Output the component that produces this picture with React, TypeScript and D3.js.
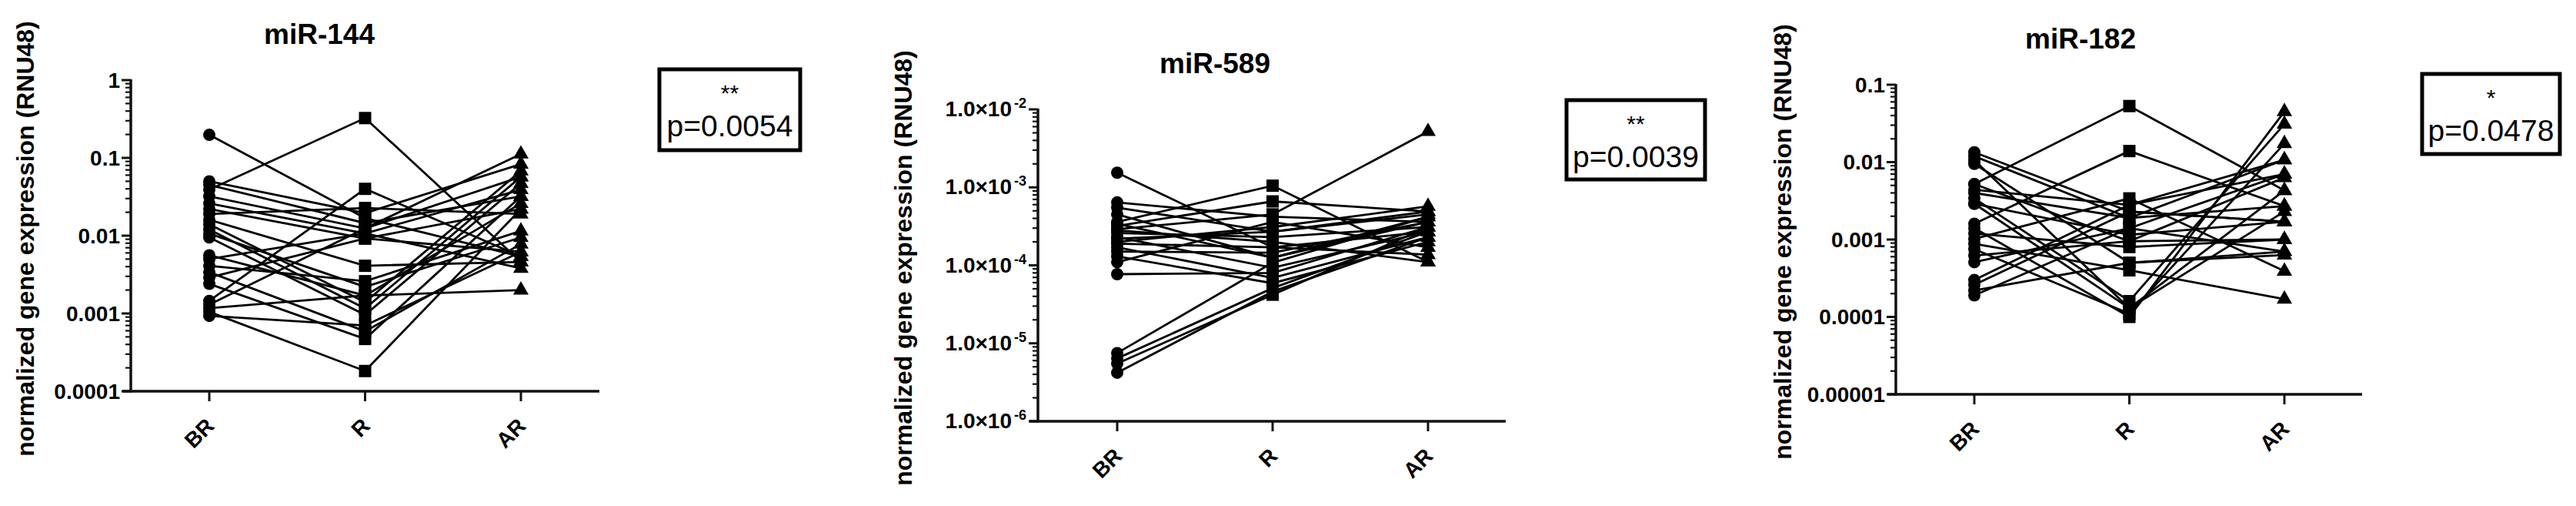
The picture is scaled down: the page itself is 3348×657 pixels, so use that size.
import React from "react";
import * as d3 from "d3";

// ---------- data ----------
const groups = ["BR", "R", "AR"];

// miR-144
const mir144_BR = [0.198, 0.039, 0.05, 0.045, 0.032, 0.026, 0.022, 0.019, 0.016, 0.014, 0.012, 0.0106, 0.0095, 0.0056, 0.005, 0.0041, 0.0034, 0.0029, 0.0024, 0.00145, 0.0013, 0.00117, 0.00105, 0.00093];
const mir144_R = [0.0168, 0.325, 0.0195, 0.0145, 0.0124, 0.0107, 0.0092, 0.0227, 0.0041, 0.0014, 0.00116, 0.0022, 0.00096, 0.0017, 0.0107, 0.0026, 0.00059, 0.0092, 0.00047, 0.04, 0.0124, 0.0017, 0.000182, 0.0007];
const mir144_AR = [0.0054, 0.0046, 0.083, 0.032, 0.112, 0.0038, 0.0062, 0.019, 0.0046, 0.068, 0.057, 0.0095, 0.047, 0.026, 0.039, 0.0115, 0.0078, 0.022, 0.032, 0.0054, 0.057, 0.002, 0.022, 0.0062];

// miR-589
const mir589_BR = [1.54e-3, 6.4e-4, 5.5e-4, 4.5e-4, 3.6e-4, 3.2e-4, 2.9e-4, 2.6e-4, 2.3e-4, 2.0e-4, 1.7e-4, 1.5e-4, 1.3e-4, 1.1e-4, 7.7e-5, 7.5e-6, 6.4e-6, 5.5e-6, 4.2e-6, 2.8e-4, 3.4e-4, 2.2e-4, 1.9e-4];
const mir589_R = [1.7e-4, 4.2e-4, 2.7e-4, 1.25e-4, 1.05e-3, 6.6e-4, 4.5e-4, 2.3e-4, 9.3e-5, 3.1e-4, 6.9e-5, 1.45e-4, 5.9e-5, 3.6e-4, 8e-5, 1.08e-4, 5.1e-5, 4.2e-5, 4.6e-5, 2.0e-4, 1.25e-4, 2.7e-4, 1.7e-4];
const mir589_AR = [1.37e-4, 3.6e-4, 4.9e-4, 4.2e-4, 1.1e-4, 4.9e-4, 5.2e-3, 3.1e-4, 2.7e-4, 5.7e-4, 2.3e-4, 3.6e-4, 2.0e-4, 1.7e-4, 3.1e-4, 4.2e-4, 2.7e-4, 3.1e-4, 2.3e-4, 1.1e-4, 3.6e-4, 4.5e-4, 2.7e-4];

// miR-182
const mir182_BR = [0.0134, 0.0119, 0.0106, 0.0095, 0.0052, 0.0044, 0.004, 0.0034, 0.0029, 0.0016, 0.0014, 0.0012, 0.00102, 0.00088, 0.00075, 0.00062, 0.00051, 0.0003, 0.00026, 0.00022, 0.00019, 0.0029, 0.0052];
const mir182_R = [0.0023, 0.0019, 0.00013, 0.0005, 0.053, 0.0028, 0.0019, 0.00016, 0.00115, 0.0139, 0.0001, 0.0008, 0.0034, 0.0004, 0.00011, 0.00095, 0.0014, 0.0028, 0.0023, 0.0005, 0.0014, 0.00013, 0.00095];
const mir182_AR = [0.0017, 0.0027, 0.0043, 0.0007, 0.0043, 0.007, 0.0107, 0.031, 0.0017, 0.0027, 0.045, 0.001, 0.00039, 0.00017, 0.0174, 0.0063, 0.0007, 0.0107, 0.0017, 0.00063, 0.007, 0.0023, 0.001];

const titles = ["miR-144", "miR-589", "miR-182"];
const stars = ["**", "**", "*"];
const pValues = ["p=0.0054", "p=0.0039", "p=0.0478"];
const tickLabels144 = ["1", "0.1", "0.01", "0.001", "0.0001"];
const tickLabels589 = ["-2", "-3", "-4", "-5", "-6"];
const tickLabels182 = ["0.1", "0.01", "0.001", "0.0001", "0.00001"];
const yLabel = "normalized gene expression (RNU48)";

// ---------- layout ----------
const W = 3348;
const H = 657;
const FONT = "'Liberation Sans', Arial, Helvetica, sans-serif";

type Panel = {
  title: string;
  star: string;
  p: string;
  domain: [number, number];
  yRange: [number, number];
  xRange: [number, number];
  axisX: number;
  xAxisExtent: [number, number];
  labels: string[];
  sci: boolean;
  titleX: number;
  titleY: number;
  yLabX: number;
  yLabY: number;
  box: [number, number, number, number];
  series: number[][];
};

const panels: Panel[] = [
  {
    title: titles[0], star: stars[0], p: pValues[0],
    domain: [1e-4, 1], yRange: [508, 104], xRange: [272, 677],
    axisX: 170, xAxisExtent: [159, 779], labels: tickLabels144, sci: false,
    titleX: 415, titleY: 57, yLabX: 33, yLabY: 310,
    box: [857, 90, 183, 105],
    series: [mir144_BR, mir144_R, mir144_AR],
  },
  {
    title: titles[1], star: stars[1], p: pValues[1],
    domain: [1e-6, 1e-2], yRange: [547, 142], xRange: [1452, 1856],
    axisX: 1349, xAxisExtent: [1338, 1957], labels: tickLabels589, sci: true,
    titleX: 1579, titleY: 95, yLabX: 1174, yLabY: 348,
    box: [2036, 130, 180, 103],
    series: [mir589_BR, mir589_R, mir589_AR],
  },
  {
    title: titles[2], star: stars[2], p: pValues[2],
    domain: [1e-5, 1e-1], yRange: [512, 110], xRange: [2566, 2969],
    axisX: 2464, xAxisExtent: [2453, 3070], labels: tickLabels182, sci: false,
    titleX: 2704, titleY: 63, yLabX: 2317, yLabY: 314,
    box: [3148, 96, 179, 104],
    series: [mir182_BR, mir182_R, mir182_AR],
  },
];

function PanelView({ pn }: { pn: Panel }) {
  const y = d3.scaleLog().domain(pn.domain).range(pn.yRange);
  const x = d3.scalePoint<string>().domain(groups).range(pn.xRange);
  const allTicks = y.ticks();
  const majors = allTicks.filter((t) => Math.abs(Math.log10(t) - Math.round(Math.log10(t))) < 1e-9);
  const majorsDesc = [...majors].sort((a, b) => b - a);
  const minors = allTicks.filter((t) => !majors.includes(t));
  const n = pn.series[0].length;
  const line = d3
    .line<[string, number]>()
    .x((d) => x(d[0]) as number)
    .y((d) => y(d[1]));
  const subjects = d3.range(n).map((i) => groups.map((g, gi) => [g, pn.series[gi][i]] as [string, number]));
  const axisY = pn.yRange[0];
  const tri = d3.symbol().type(d3.symbolTriangle).size(175)();

  return (
    <g>
      <text x={pn.titleX} y={pn.titleY} textAnchor="middle" fontSize={37} fontWeight="bold" fontFamily={FONT}>
        {pn.title}
      </text>
      <text
        transform={`translate(${pn.yLabX},${pn.yLabY}) rotate(-90)`}
        textAnchor="middle"
        dominantBaseline="central"
        fontSize={32}
        fontWeight="bold"
        fontFamily={FONT}
      >
        {yLabel}
      </text>
      {/* y axis */}
      <line x1={pn.axisX} x2={pn.axisX} y1={pn.yRange[1] - 1} y2={axisY + 1.5} stroke="#111" strokeWidth={3.5} />
      {minors.map((t, i) => (
        <line key={"mi" + i} x1={pn.axisX - 7} x2={pn.axisX} y1={y(t)} y2={y(t)} stroke="#111" strokeWidth={2.2} />
      ))}
      {majorsDesc.map((t, i) => (
        <g key={"ma" + i}>
          <line x1={pn.axisX - 12} x2={pn.axisX} y1={y(t)} y2={y(t)} stroke="#111" strokeWidth={3} />
          {pn.sci ? (
            <text x={pn.axisX - 15} y={y(t) + 9} textAnchor="end" fontSize={28} fontWeight="bold" fontFamily={FONT}>
              1.0×10
              <tspan fontSize={18} dy={-11} dx={3}>
                {pn.labels[i]}
              </tspan>
            </text>
          ) : (
            <text x={pn.axisX - 14} y={y(t)} textAnchor="end" dominantBaseline="central" fontSize={28} fontWeight="bold" fontFamily={FONT}>
              {pn.labels[i]}
            </text>
          )}
        </g>
      ))}
      {/* x axis */}
      <line x1={pn.xAxisExtent[0]} x2={pn.xAxisExtent[1]} y1={axisY} y2={axisY} stroke="#111" strokeWidth={3.5} />
      {groups.map((g) => (
        <g key={g}>
          <line x1={x(g)} x2={x(g)} y1={axisY} y2={axisY + 13} stroke="#111" strokeWidth={3} />
          <text
            transform={`translate(${(x(g) as number) + 8},${axisY + 47}) rotate(-45)`}
            textAnchor="end"
            fontSize={28}
            fontWeight="bold"
            fontFamily={FONT}
          >
            {g}
          </text>
        </g>
      ))}
      {/* lines */}
      {subjects.map((s, i) => (
        <path key={"l" + i} d={line(s) as string} fill="none" stroke="#000" strokeWidth={2.8} />
      ))}
      {/* markers */}
      {pn.series[0].map((v, i) => (
        <circle key={"c" + i} cx={x("BR")} cy={y(v)} r={8} fill="#000" />
      ))}
      {pn.series[1].map((v, i) => (
        <rect key={"s" + i} x={(x("R") as number) - 8} y={y(v) - 8} width={16} height={16} fill="#000" />
      ))}
      {pn.series[2].map((v, i) => (
        <path key={"t" + i} d={tri as string} transform={`translate(${x("AR")},${y(v)})`} fill="#000" />
      ))}
      {/* stats box */}
      <rect x={pn.box[0]} y={pn.box[1]} width={pn.box[2]} height={pn.box[3]} fill="none" stroke="#000" strokeWidth={5} />
      <text x={pn.box[0] + pn.box[2] / 2} y={pn.box[1] + 41} textAnchor="middle" fontSize={30} fontFamily={FONT}>
        {pn.star}
      </text>
      <text x={pn.box[0] + pn.box[2] / 2} y={pn.box[1] + 87} textAnchor="middle" fontSize={39} fontFamily={FONT}>
        {pn.p}
      </text>
    </g>
  );
}

export default function App() {
  return (
    <div style={{ position: "absolute", left: 0, top: 0 }}>
      <svg width={W} height={H} viewBox={`0 0 ${W} ${H}`} style={{ display: "block", background: "#fff" }}>
        <rect width={W} height={H} fill="#fff" />
        {panels.map((pn, i) => (
          <PanelView key={i} pn={pn} />
        ))}
      </svg>
    </div>
  );
}
